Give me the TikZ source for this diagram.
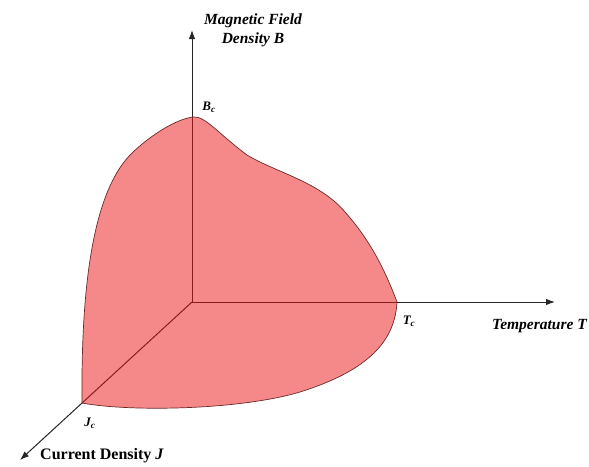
\documentclass[tikz,border=0pt]{standalone}
\usepackage{fontspec}
\setmainfont{Liberation Serif}
\usetikzlibrary{arrows.meta}
\definecolor{scred}{RGB}{235,20,20}
\definecolor{scline}{RGB}{110,40,40}
\tikzset{
  axis/.style={line width=1pt, draw=black!85, -{Latex[length=9pt,width=6.5pt]}},
  axlabel/.style={font=\fontsize{15.5}{19}\selectfont\bfseries\itshape, inner sep=1pt, align=center},
  critlabel/.style={font=\fontsize{13}{15}\selectfont\bfseries\itshape, inner sep=1pt}
}
\begin{document}
\begin{tikzpicture}[x=1pt, y=-1pt]
  \useasboundingbox (0,0) rectangle (589,466);
  \coordinate (O) at (192,302);
  \coordinate (Bend) at (192,30);
  \coordinate (Tend) at (555,302);
  \coordinate (Jend) at (20,460);
  \coordinate (Bc) at (194,117);
  \coordinate (Tc) at (397,302);
  \coordinate (Jc) at (82,403);
  % axes
  \draw[axis] (O) -- (Bend);
  \draw[axis] (O) -- (Tend);
  \draw[axis] (O) -- (Jend);
  % critical surface
  \filldraw[fill=scred, fill opacity=0.5, draw=scline, line width=0.7pt]
    (Jc) .. controls (81,290) and (92,195) .. (130,155)
         .. controls (150,135) and (178,118) .. (Bc)
         .. controls (205,116) and (220,135) .. (247,155)
         .. controls (275,172) and (320,182) .. (345,212)
         .. controls (370,240) and (385,270) .. (Tc)
         .. controls (395,340) and (370,370) .. (300,392)
         .. controls (240,410) and (130,412) .. (Jc) -- cycle;
  % labels
  \node[axlabel] (Blabel) at (253,30) {Magnetic Field\\Density B};
  \node[axlabel, anchor=west] (Tlabel) at (491,326) {Temperature T};
  \node[font=\fontsize{16}{19}\selectfont\bfseries, anchor=west, inner sep=1pt] (Jlabel) at (39,456) {Current Density \textit{J}};
  \node[critlabel] (Bclabel) at (209,107) {B\textsubscript{c}};
  \node[critlabel] (Tclabel) at (409,321) {T\textsubscript{c}};
  \node[critlabel] (Jclabel) at (90,423) {J\textsubscript{c}};
\end{tikzpicture}
\end{document}
